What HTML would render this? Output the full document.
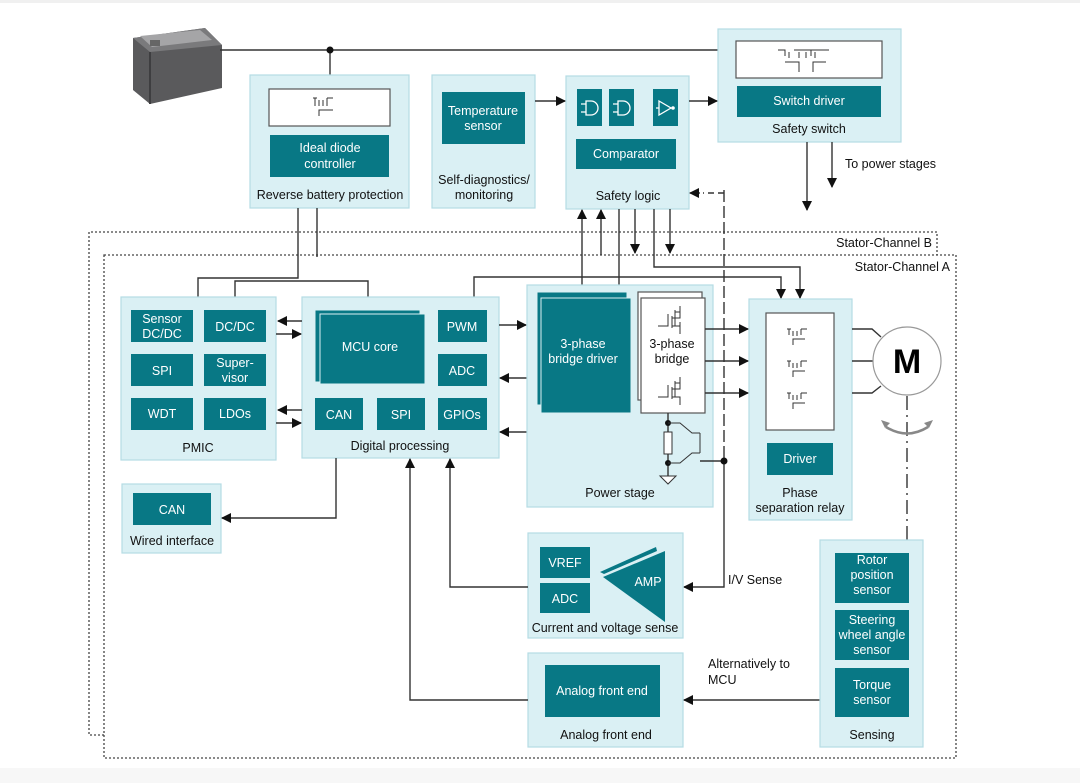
<!DOCTYPE html>
<html><head><meta charset="utf-8"><style>
body{margin:0;background:#fff}
svg{display:block;font-family:"Liberation Sans",sans-serif}
.b{fill:#daf0f4;stroke:#b5dce4;stroke-width:1.2}
.t{fill:#087885}
.w{fill:#fff;stroke:#555;stroke-width:1.2}
.l{stroke:#333;stroke-width:1.4;fill:none}
.tw{fill:#fff;font-size:12.5px;text-anchor:middle}
.tk{fill:#111;font-size:12.5px;text-anchor:middle}
.sym{stroke:#333;stroke-width:1;fill:none}
</style></head><body>
<svg width="1080" height="783" viewBox="0 0 1080 783">
<defs><marker id="a" markerWidth="10" markerHeight="10" refX="9" refY="5" orient="auto" markerUnits="userSpaceOnUse"><path d="M0,0 L10,5 L0,10 z" fill="#111"/></marker></defs>
<rect x="0" y="0" width="1080" height="3" fill="#f0f0f0"/>
<rect x="0" y="768" width="1080" height="15" fill="#f7f7f7"/>
<!-- battery -->
<polygon points="133,38 205,28 222,45 222,88 150,104 133,90" fill="#5a5a5c"/>
<polygon points="133,38 205,28 222,45 150,52" fill="#7a7a7c"/>
<polygon points="140,36 200,30 212,40 152,47" fill="#a5a5a7"/>
<rect x="150" y="40" width="10" height="6" fill="#666"/>
<line x1="150" y1="52" x2="150" y2="104" stroke="#3e3e40" stroke-width="2"/>
<!-- stator channels -->
<polyline points="104,735 89,735 89,232 937,232 937,255" fill="none" stroke="#444" stroke-width="1.3" stroke-dasharray="2,2"/>
<rect x="104" y="255" width="852" height="503" fill="none" stroke="#444" stroke-width="1.3" stroke-dasharray="2,2"/>
<text x="932" y="247" font-size="12.5" text-anchor="end" fill="#111">Stator-Channel B</text>
<text x="950" y="271" font-size="12.5" text-anchor="end" fill="#111">Stator-Channel A</text>
<!-- battery line -->
<path class="l" d="M220,50 H718 M330,50 V75"/>
<circle cx="330" cy="50" r="3.5" fill="#111"/>
<!-- Reverse battery -->
<rect class="b" x="250" y="75" width="159" height="133"/>
<rect class="w" x="269" y="89" width="121" height="37"/>
<path class="sym" d="M313,98 h4 M315,98 v8 M319,100 v6 M323,100 v6 M327,98 h6 M327,98 v8 M319,116 v-6 h14"/>
<rect class="t" x="270" y="135" width="119" height="42"/>
<text class="tw" x="330" y="152">Ideal diode</text><text class="tw" x="330" y="168">controller</text>
<text class="tk" x="330" y="199">Reverse battery protection</text>
<!-- self diag -->
<rect class="b" x="432" y="75" width="103" height="133"/>
<rect class="t" x="442" y="92" width="83" height="52"/>
<text class="tw" x="483" y="115">Temperature</text><text class="tw" x="483" y="130">sensor</text>
<text class="tk" x="484" y="184">Self-diagnostics/</text><text class="tk" x="484" y="199">monitoring</text>
<!-- safety logic -->
<rect class="b" x="566" y="76" width="123" height="133"/>
<rect class="t" x="577" y="89" width="25" height="37"/><rect class="t" x="609" y="89" width="25" height="37"/><rect class="t" x="653" y="89" width="25" height="37"/>
<path d="M586,101 h5 a7,7 0 0 1 0,14 h-5 z M581,104 h5 M581,112 h5" stroke="#fff" fill="none" stroke-width="1.3"/>
<path d="M618,101 h5 a7,7 0 0 1 0,14 h-5 z M613,104 h5 M613,112 h5" stroke="#fff" fill="none" stroke-width="1.3"/>
<path d="M659,101 l12,7 l-12,7 z M656,108 h3" stroke="#fff" fill="none" stroke-width="1.3"/><circle cx="673" cy="108" r="1.8" fill="#fff"/>
<rect class="t" x="576" y="139" width="100" height="30"/>
<text class="tw" x="626" y="158">Comparator</text>
<text class="tk" x="628" y="200">Safety logic</text>
<!-- safety switch -->
<rect class="b" x="718" y="29" width="183" height="113"/>
<rect class="w" x="736" y="41" width="146" height="37"/>
<path class="sym" d="M778,50 h7 v6 M789,52 v6 M794,50 h30 M799,52 v6 M806,52 v6 M811,50 v6 M815,52 v6 M820,50 h9 M785,62 h14 v10 M813,72 v-10 h13"/>
<rect class="t" x="737" y="86" width="144" height="31"/>
<text class="tw" x="809" y="105">Switch driver</text>
<text class="tk" x="809" y="133">Safety switch</text>
<path class="l" d="M535,101 H565" marker-end="url(#a)"/>
<path class="l" d="M689,101 H717" marker-end="url(#a)"/>
<path class="l" d="M807,142 V210" marker-end="url(#a)"/>
<path class="l" d="M832,142 V187" marker-end="url(#a)"/>
<text x="845" y="168" font-size="12.5" fill="#111">To power stages</text>
<!-- safety logic bottom connectors -->
<path class="l" d="M582,285 V210" marker-end="url(#a)"/>
<path class="l" d="M601,255 V210" marker-end="url(#a)"/>
<path class="l" d="M619,209 V285"/>
<path class="l" d="M635,209 V253" marker-end="url(#a)"/>
<path class="l" d="M670,209 V253" marker-end="url(#a)"/>
<path class="l" d="M654,209 V267 H800 V298" marker-end="url(#a)"/>
<path class="l" d="M474,297 V277 H781 V298" marker-end="url(#a)"/>
<path d="M724,190 V452" stroke="#333" stroke-width="1.4" stroke-dasharray="12,4"/>
<path d="M724,193 H703" stroke="#333" stroke-width="1.4" stroke-dasharray="6,4"/>
<path class="l" d="M700,193 H690" marker-end="url(#a)"/>
<path class="l" d="M724,452 V587 H684" marker-end="url(#a)"/>
<text x="728" y="584" font-size="12.5" fill="#111">I/V Sense</text>
<!-- reverse battery connectors -->
<path class="l" d="M298,208 V278 H198 V297"/>
<path class="l" d="M317,208 V257"/>
<path class="l" d="M235,297 V281 H368 V297"/>
<!-- PMIC -->
<rect class="b" x="121" y="297" width="155" height="163"/>
<rect class="t" x="131" y="310" width="62" height="32"/><rect class="t" x="204" y="310" width="62" height="32"/>
<rect class="t" x="131" y="354" width="62" height="32"/><rect class="t" x="204" y="354" width="62" height="32"/>
<rect class="t" x="131" y="398" width="62" height="32"/><rect class="t" x="204" y="398" width="62" height="32"/>
<text class="tw" x="162" y="323">Sensor</text><text class="tw" x="162" y="338">DC/DC</text>
<text class="tw" x="235" y="331">DC/DC</text>
<text class="tw" x="162" y="375">SPI</text>
<text class="tw" x="235" y="367">Super-</text><text class="tw" x="235" y="382">visor</text>
<text class="tw" x="162" y="418">WDT</text><text class="tw" x="235" y="418">LDOs</text>
<text class="tk" x="198" y="452">PMIC</text>
<!-- Digital -->
<rect class="b" x="302" y="297" width="197" height="161"/>
<rect class="t" x="315" y="310" width="105" height="72" stroke="#daf0f4" stroke-width="1"/>
<rect class="t" x="320" y="314" width="105" height="70" stroke="#daf0f4" stroke-width="1"/>
<text class="tw" x="370" y="351">MCU core</text>
<rect class="t" x="438" y="310" width="49" height="32"/><text class="tw" x="462" y="331">PWM</text>
<rect class="t" x="438" y="354" width="49" height="32"/><text class="tw" x="462" y="375">ADC</text>
<rect class="t" x="315" y="398" width="48" height="32"/><text class="tw" x="339" y="419">CAN</text>
<rect class="t" x="377" y="398" width="48" height="32"/><text class="tw" x="401" y="419">SPI</text>
<rect class="t" x="438" y="398" width="49" height="32"/><text class="tw" x="462" y="419">GPIOs</text>
<text class="tk" x="400" y="450">Digital processing</text>
<path class="l" d="M302,321 H278" marker-end="url(#a)"/>
<path class="l" d="M276,334 H301" marker-end="url(#a)"/>
<path class="l" d="M302,410 H278" marker-end="url(#a)"/>
<path class="l" d="M276,423 H301" marker-end="url(#a)"/>
<path class="l" d="M499,325 H526" marker-end="url(#a)"/>
<path class="l" d="M527,378 H500" marker-end="url(#a)"/>
<path class="l" d="M527,432 H500" marker-end="url(#a)"/>
<!-- wired -->
<rect class="b" x="122" y="484" width="99" height="69"/>
<rect class="t" x="133" y="493" width="78" height="32"/><text class="tw" x="172" y="514">CAN</text>
<text class="tk" x="172" y="545">Wired interface</text>
<path class="l" d="M336,458 V518 H222" marker-end="url(#a)"/>
<!-- power stage -->
<rect class="b" x="527" y="285" width="186" height="222"/>
<rect class="t" x="537" y="292" width="90" height="113" stroke="#daf0f4"/>
<rect class="t" x="541" y="298" width="90" height="115" stroke="#daf0f4"/>
<text class="tw" x="583" y="348">3-phase</text><text class="tw" x="583" y="363">bridge driver</text>
<rect class="w" x="638" y="292" width="64" height="108"/>
<rect class="w" x="641" y="298" width="64" height="115"/>
<text class="tk" x="672" y="348">3-phase</text><text class="tk" x="672" y="363">bridge</text>
<path class="sym" d="M680,306 v6 h-5 M675,310 v16 M658,326 h10 v-12 M672,316 v12 M672,318 h8 v-6 M672,326 h8 v8 M680,322 v4 M680,377 v6 h-5 M675,381 v16 M658,397 h10 v-12 M672,387 v12 M672,389 h8 v-6 M672,397 h8 v8"/>
<path class="l" d="M668,413 V476"/>
<rect x="664" y="432" width="8" height="22" fill="#fff" stroke="#333"/>
<circle cx="668" cy="423" r="3" fill="#111"/><circle cx="668" cy="463" r="3" fill="#111"/>
<path class="sym" d="M668,423 h12 l12,10 h8 M668,463 h12 l12,-10 h8 M700,433 v20"/>
<path d="M660,476 h16 l-8,8 z" fill="#fff" stroke="#333"/>
<path class="l" d="M700,461 H724"/><circle cx="724" cy="461" r="3.5" fill="#111"/>
<text class="tk" x="620" y="497">Power stage</text>
<!-- relay -->
<rect class="b" x="749" y="299" width="103" height="221"/>
<rect class="w" x="766" y="313" width="68" height="117"/>
<g class="sym">
<path d="M787,329 h4 M789,329 v6 M793,331 v5 M797,331 v5 M801,329 h6 M801,329 v6 M793,345 v-6 h12"/>
<path d="M787,361 h4 M789,361 v6 M793,363 v5 M797,363 v5 M801,361 h6 M801,361 v6 M793,377 v-6 h12"/>
<path d="M787,393 h4 M789,393 v6 M793,395 v5 M797,395 v5 M801,393 h6 M801,393 v6 M793,409 v-6 h12"/>
</g>
<rect class="t" x="767" y="443" width="66" height="32"/><text class="tw" x="800" y="463">Driver</text>
<text class="tk" x="800" y="497">Phase</text><text class="tk" x="800" y="512">separation relay</text>
<path class="l" d="M705,329 H748" marker-end="url(#a)"/>
<path class="l" d="M705,361 H748" marker-end="url(#a)"/>
<path class="l" d="M705,393 H748" marker-end="url(#a)"/>
<path class="l" d="M852,329 H872 L881,337 M852,361 H874 M852,393 H872 L881,386"/>
<circle cx="907" cy="361" r="34" fill="#fff" stroke="#999" stroke-width="1.2"/>
<text x="907" y="373" font-size="34" font-weight="bold" text-anchor="middle" fill="#000">M</text>
<path d="M907,396 V540" stroke="#333" stroke-width="1.4" stroke-dasharray="14,5,2,5"/>
<path d="M886,427 Q907,440 928,427" stroke="#888" stroke-width="2.5" fill="none"/>
<path d="M881,420 l9,3 l-5,5 z M933,420 l-9,3 l5,5 z" fill="#888"/>
<!-- CV sense -->
<rect class="b" x="528" y="533" width="155" height="105"/>
<rect class="t" x="540" y="547" width="50" height="31"/><text class="tw" x="565" y="567">VREF</text>
<rect class="t" x="540" y="583" width="50" height="30"/><text class="tw" x="565" y="603">ADC</text>
<path d="M600,572 L656,547 L657,551 L604,574 z" class="t"/>
<path d="M603,577 L665,551 L665,622 z" class="t"/>
<text class="tw" x="648" y="586">AMP</text>
<text class="tk" x="605" y="632">Current and voltage sense</text>
<path class="l" d="M528,587 H450 V459" marker-end="url(#a)"/>
<!-- AFE -->
<rect class="b" x="528" y="653" width="155" height="94"/>
<rect class="t" x="545" y="665" width="115" height="52"/><text class="tw" x="602" y="695">Analog front end</text>
<text class="tk" x="606" y="739">Analog front end</text>
<path class="l" d="M528,700 H410 V459" marker-end="url(#a)"/>
<path class="l" d="M820,700 H684" marker-end="url(#a)"/>
<text x="708" y="668" font-size="12.5" fill="#111">Alternatively to</text>
<text x="708" y="684" font-size="12.5" fill="#111">MCU</text>
<!-- sensing -->
<rect class="b" x="820" y="540" width="103" height="207"/>
<rect class="t" x="835" y="553" width="74" height="50"/><text class="tw" x="872" y="564">Rotor</text><text class="tw" x="872" y="579">position</text><text class="tw" x="872" y="594">sensor</text>
<rect class="t" x="835" y="610" width="74" height="50"/><text class="tw" x="872" y="624">Steering</text><text class="tw" x="872" y="639">wheel angle</text><text class="tw" x="872" y="654">sensor</text>
<rect class="t" x="835" y="668" width="74" height="49"/><text class="tw" x="872" y="689">Torque</text><text class="tw" x="872" y="704">sensor</text>
<text class="tk" x="872" y="739">Sensing</text>
</svg>
</body></html>
